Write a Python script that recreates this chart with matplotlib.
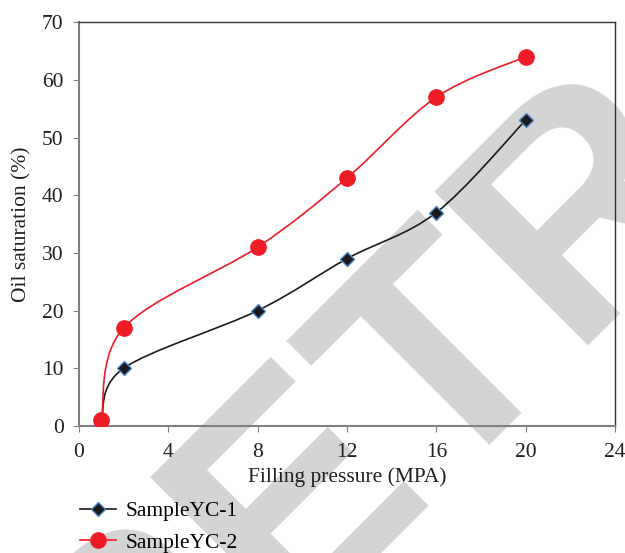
import matplotlib
matplotlib.use("Agg")
import matplotlib.pyplot as plt
from matplotlib.path import Path
from matplotlib.patches import PathPatch

# datos
presion = [1, 2, 8, 12, 16, 20]
yc1 = [1, 10, 20, 29, 37, 53]
yc2 = [1, 17, 31, 43, 57, 64]

plt.rcParams['font.family'] = ['Liberation Serif', 'DejaVu Serif']


def suave(ax, xs, ys, color):
    # curva suavizada tipo Excel (bezier con puntos de control 1/6)
    pts = list(zip(xs, ys))
    n = len(pts)
    verts = [pts[0]]
    codes = [Path.MOVETO]
    for i in range(n - 1):
        p0 = pts[i - 1] if i > 0 else pts[i]
        p1 = pts[i]
        p2 = pts[i + 1]
        p3 = pts[i + 2] if i + 2 < n else pts[i + 1]
        c1 = (p1[0] + (p2[0] - p0[0]) / 6, p1[1] + (p2[1] - p0[1]) / 6)
        c2 = (p2[0] - (p3[0] - p1[0]) / 6, p2[1] - (p3[1] - p1[1]) / 6)
        verts += [c1, c2, p2]
        codes += [Path.CURVE4] * 3
    ax.add_patch(PathPatch(Path(verts, codes), fill=False, edgecolor=color, lw=1.2, zorder=2))


fig = plt.figure(figsize=(6.25, 5.53), dpi=100)
ax = fig.add_axes([0.1264, 0.2297, 0.8576, 0.7303])
ax.patch.set_alpha(0)

# marca de agua
fig.text(0.196, -0.431, "RETRACTED", rotation=45, rotation_mode='anchor', fontsize=227,
         color='#d4d4d4', family='Liberation Sans', fontweight='bold',
         ha='left', va='baseline', zorder=-5)

suave(ax, presion, yc1, '#1a1a1a')
suave(ax, presion, yc2, '#ee1c25')
ax.plot(presion, yc1, ls='none', marker='D', ms=7.5, mfc='#1a1a1a', mec='#4a86c8', mew=1,
        zorder=3)
ax.plot(presion, yc2, ls='none', marker='o', ms=11, mfc='#ee1c25', mec='#ee1c25', zorder=3)

ax.set_xlim(0, 24)
ax.set_ylim(0, 70)
ax.set_xticks(range(0, 25, 4))
ax.set_yticks(range(0, 71, 10))
for s in ['left', 'bottom']:
    ax.spines[s].set_color('#808080')
    ax.spines[s].set_linewidth(1.5)
for s in ['top', 'right']:
    ax.spines[s].set_color('#333333')
    ax.spines[s].set_linewidth(1)
ax.tick_params(direction='out', length=4, color='#808080', labelsize=15.5, labelcolor='#231f20')
ax.tick_params(axis='x', pad=8)
ax.tick_params(axis='y', pad=7)
ax.set_xlabel('Filling pressure (MPA)', fontsize=15.5, color='#231f20', labelpad=4)
ax.set_ylabel('Oil saturation (%)', fontsize=15.5, color='#231f20', labelpad=8)

h1, = ax.plot([], [], color='#1a1a1a', lw=1.2, marker='D', ms=7.5, mfc='#1a1a1a', mec='#4a86c8')
h2, = ax.plot([], [], color='#ee1c25', lw=1.2, marker='o', ms=11, mfc='#ee1c25', mec='#ee1c25')
fig.legend([h1, h2], ['SampleYC-1', 'SampleYC-2'], loc='upper left',
           bbox_to_anchor=(0.128, 0.094), frameon=False, fontsize=15.5,
           handlelength=1.67, handletextpad=0.44, labelspacing=0.55,
           borderpad=0, borderaxespad=0)

fig.savefig('out.png', dpi=100)
